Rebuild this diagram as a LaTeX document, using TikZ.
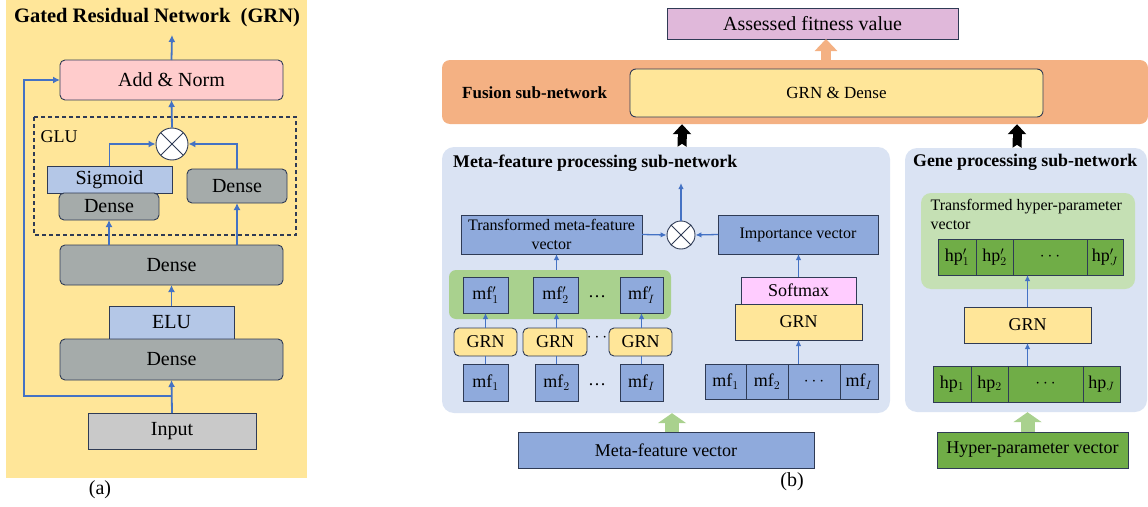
\documentclass[tikz,border=0pt]{standalone}
\usepackage{fontspec}
\setmainfont{Liberation Serif}
\usetikzlibrary{arrows.meta}
\usetikzlibrary{positioning}

\definecolor{bgyellow}{HTML}{FFE699}
\definecolor{pinkbox}{HTML}{FFCCCC}
\definecolor{densegray}{HTML}{A5ABAA}
\definecolor{lightblue}{HTML}{B4C7E7}
\definecolor{inputgray}{HTML}{C9C9C9}
\definecolor{edge}{HTML}{2F3B55}
\definecolor{arrowblue}{HTML}{4472C4}
\definecolor{fitpink}{HTML}{E0B8DA}
\definecolor{fusionorange}{HTML}{F4B183}
\definecolor{panelblue}{HTML}{DAE3F3}
\definecolor{vecblue}{HTML}{8FAADC}
\definecolor{bandgreen}{HTML}{A9D18E}
\definecolor{softpink}{HTML}{FFCCFF}
\definecolor{genegreen}{HTML}{C5E0B4}
\definecolor{hpgreen}{HTML}{70AD47}

\tikzset{
  box/.style={draw=edge,line width=0.9pt,inner sep=0pt,outer sep=0pt},
  dense/.style={box,fill=densegray,rounded corners=5pt},
  grnbox/.style={box,fill=bgyellow},
  vec/.style={box,fill=vecblue},
  hpcell/.style={box,fill=hpgreen,minimum height=36pt},
  mfcell/.style={box,fill=vecblue,minimum height=35pt},
  mulnode/.style={circle,draw=edge,line width=0.9pt,fill=white,inner sep=0pt,
    path picture={\draw[edge,line width=0.9pt]
      (path picture bounding box.north west) -- (path picture bounding box.south east)
      (path picture bounding box.north east) -- (path picture bounding box.south west);}},
  arrA/.style={draw=arrowblue,line width=1.8pt,-{Latex[length=7pt,width=7pt]}},
  arrB/.style={draw=arrowblue,line width=1.3pt,-{Latex[length=6pt,width=5.5pt]}},
  lineB/.style={draw=arrowblue,line width=1.3pt},
  bigorange/.style={draw=fusionorange,line width=10pt,-{Triangle[length=12pt,width=22pt]}},
  bigblack/.style={draw=black,line width=9pt,{Triangle Cap[reversed,length=3pt]}-{Triangle[length=10pt,width=18pt]}},
  biggreen/.style={draw=bandgreen,line width=14pt,-{Triangle[length=10pt,width=28pt]}},
  sz20/.style={font=\fontsize{20}{24}\selectfont},
  sz18/.style={font=\fontsize{18}{21}\selectfont},
  sz16/.style={font=\fontsize{16}{19}\selectfont},
  headline/.style={font=\fontsize{17.8}{21}\selectfont\bfseries,inner sep=0pt}
}

\begin{document}
\begin{tikzpicture}[x=1pt,y=-1pt]
\useasboundingbox (0,0) rectangle (1148,506);

% ---------- (a) GRN ----------
\node[fill=bgyellow,minimum width=301pt,minimum height=478pt,inner sep=0pt] (bgA) at (156.5,239) {};
\node[font=\fontsize{20.5}{24}\selectfont\bfseries] (titleA) at (157,18) {Gated Residual Network\ \ (GRN)};

\node[box,fill=pinkbox,rounded corners=5pt,minimum width=223pt,minimum height=40pt,sz20] (addnorm) at (171.5,80) {Add \& Norm};
\draw[draw=edge,line width=1.3pt,dash pattern=on 4pt off 3pt] (34,117) rectangle (296,235);
\node[sz18,anchor=west] (glu) at (37,137) {GLU};
\node[mulnode,minimum size=32pt] (mul) at (172,144) {};
\node[box,fill=lightblue,minimum width=125pt,minimum height=27pt,sz20] (sig) at (109.5,179.5) {Sigmoid};
\node[dense,minimum width=100pt,minimum height=27pt,sz20] (dsmall) at (109,206.5) {Dense};
\node[dense,minimum width=100pt,minimum height=34pt,sz20] (dright) at (237,186) {Dense};
\node[dense,minimum width=223pt,minimum height=40pt,sz20] (dbig) at (171.5,265) {Dense};
\node[box,fill=lightblue,minimum width=125pt,minimum height=33pt,sz20] (elu) at (171.5,322.5) {ELU};
\node[dense,minimum width=223pt,minimum height=41pt,sz20] (dlow) at (171.5,359.5) {Dense};
\node[box,fill=inputgray,minimum width=168pt,minimum height=36pt,sz20] (input) at (172,431) {Input};
\node[sz20] (capA) at (100,490) {(a)};

\coordinate (outA) at (172,35);
\coordinate (split) at (172,396);
\draw[arrA] (addnorm.north) -- (outA);
\draw[arrA] (mul.north) -- (addnorm.south);
\draw[arrA] (sig.north) |- (mul.west);
\draw[arrA] (dright.north) |- (mul.east);
\draw[arrA] (dbig.north -| dsmall.south) -- (dsmall.south);
\draw[arrA] (dbig.north -| dright.south) -- (dright.south);
\draw[arrA] (elu.north) -- (dbig.south);
\draw[arrA] (input.north) -- (dlow.south);
\draw[arrA] (split) -| ([xshift=-36pt]addnorm.west) -- (addnorm.west);

% ---------- (b) fusion ----------
\node[box,fill=fitpink,minimum width=291pt,minimum height=31pt,sz20] (fitness) at (812.5,23.5) {Assessed fitness value};
\node[fill=fusionorange,rounded corners=8pt,minimum width=706pt,minimum height=64pt,inner sep=0pt] (fusion) at (795,92) {};
\node[headline,font=\fontsize{17}{20}\selectfont\bfseries,anchor=west] (fusionlbl) at (462,93) {Fusion sub-network};
\node[grnbox,rounded corners=6pt,minimum width=413pt,minimum height=48pt,font=\fontsize{17}{20}\selectfont] (grnd) at (836.5,93) {GRN \& Dense};
\draw[bigorange] (fusion.north -| 826,0) -- (fitness.south -| 826,0);

% ---------- meta-feature sub-network ----------
\node[fill=panelblue,rounded corners=12pt,minimum width=448pt,minimum height=266pt,inner sep=0pt] (meta) at (666,280) {};
\node[headline,anchor=west] (metalbl) at (453,163) {Meta-feature processing sub-network};
\draw[bigblack] (meta.north -| 682,0) -- (fusion.south -| 682,0);

\node[vec,minimum width=181pt,minimum height=39pt,sz16,align=center] (trans) at (551.5,234.5) {Transformed meta-feature\\vector};
\node[mulnode,minimum size=28pt] (mul2) at (681,235) {};
\node[vec,minimum width=160pt,minimum height=39pt,sz16] (imp) at (798,234.5) {Importance vector};
\coordinate (metaout) at (681,183);
\node[box,fill=softpink,minimum width=115pt,minimum height=27pt,sz18] (softmax) at (798.5,290.5) {Softmax};
\node[grnbox,minimum width=127pt,minimum height=36pt,sz18] (grnr) at (798.5,322) {GRN};

\node[mfcell,minimum width=41pt,sz18] (mfa) at (725.5,381.5) {mf$_1$};
\node[mfcell,minimum width=42pt,sz18,right=0pt of mfa] (mfb) {mf$_2$};
\node[mfcell,minimum width=52pt,sz18,right=0pt of mfb] (mfd) {$\cdots$};
\node[mfcell,minimum width=38pt,sz18,right=0pt of mfd] (mfc) {mf$_I$};

\node[fill=bandgreen,rounded corners=7pt,minimum width=222pt,minimum height=49pt,inner sep=0pt] (band) at (560,294.5) {};
\node[vec,minimum width=45pt,minimum height=36pt,sz18] (mfp1) at (485.5,295) {mf$'_1$};
\node[vec,minimum width=45pt,minimum height=36pt,sz18] (mfp2) at (555.5,295) {mf$'_2$};
\node[vec,minimum width=43pt,minimum height=36pt,sz18] (mfpI) at (641.5,295) {mf$'_I$};
\node[sz18] (dotsp) at (597,297) {\ldots};

\node[grnbox,rounded corners=5pt,minimum width=63pt,minimum height=28pt,sz18] (grn1) at (485.5,342) {GRN};
\node[grnbox,rounded corners=5pt,minimum width=64pt,minimum height=28pt,sz18] (grn2) at (555,342) {GRN};
\node[grnbox,rounded corners=5pt,minimum width=63pt,minimum height=28pt,sz18] (grn3) at (640.5,342) {GRN};
\node[sz18] (dotsg) at (597,338) {$\cdots$};

\node[vec,minimum width=45pt,minimum height=37pt,sz18] (mf1) at (485.5,382.5) {mf$_1$};
\node[vec,minimum width=43pt,minimum height=37pt,sz18] (mf2) at (556.5,382.5) {mf$_2$};
\node[vec,minimum width=43pt,minimum height=37pt,sz18] (mfI) at (641.5,382.5) {mf$_I$};
\node[sz18] (dotsm) at (597,385) {\ldots};

\draw[lineB] (mf1.north) -- (grn1.south);
\draw[lineB] (mf2.north) -- (mf2.north |- grn2.south);
\draw[lineB] (mfI.north) -- (mfI.north |- grn3.south);
\draw[arrB] (grn1.north -| mfp1) -- (mfp1.south);
\draw[arrB] (mf2 |- grn2.north) -- (mfp2.south -| mf2);
\draw[arrB] (mfI |- grn3.north) -- (mfpI.south);
\draw[arrB] (band.north -| mf2) -- (trans.south -| mf2);
\draw[arrB] (trans.east) -- (mul2.west);
\draw[arrB] (imp.west) -- (mul2.east);
\draw[arrB] (mul2.north) -- (metaout);
\draw[arrB] (softmax.north) -- (imp.south -| softmax.north);
\draw[arrB] (mfd.north -| grnr.south) -- (grnr.south);

\node[vec,minimum width=296pt,minimum height=36pt,sz18] (metavec) at (666,450) {Meta-feature vector};
\draw[biggreen] (metavec.north -| 672,0) -- (meta.south -| 672,0);
\node[sz20] (capB) at (792,482) {(b)};

% ---------- gene sub-network ----------
\node[fill=panelblue,rounded corners=12pt,minimum width=242pt,minimum height=264pt,inner sep=0pt] (gene) at (1026,280) {};
\node[headline,anchor=west] (genelbl) at (913,162) {Gene processing sub-network};
\draw[bigblack] (gene.north -| 1017,0) -- (fusion.south -| 1017,0);

\node[fill=genegreen,rounded corners=10pt,minimum width=214pt,minimum height=96pt,inner sep=0pt] (geneband) at (1028,241) {};
\node[sz16,anchor=north west,align=left] (hpplbl) at (927,196) {Transformed hyper-parameter\\vector};
\node[hpcell,minimum width=38pt,sz18] (hpp1) at (957,257) {hp$'_1$};
\node[hpcell,minimum width=37pt,sz18,right=0pt of hpp1] (hpp2) {hp$'_2$};
\node[hpcell,minimum width=74pt,sz18,right=0pt of hpp2] (hppd) {$\cdots$};
\node[hpcell,minimum width=36pt,sz18,right=0pt of hppd] (hppJ) {hp$'_J$};

\node[grnbox,minimum width=127pt,minimum height=36pt,sz18] (grng) at (1027.5,325) {GRN};

\node[hpcell,minimum width=38pt,sz18] (hp1) at (952,384) {hp$_1$};
\node[hpcell,minimum width=37pt,sz18,right=0pt of hp1] (hp2) {hp$_2$};
\node[hpcell,minimum width=75pt,sz18,right=0pt of hp2] (hpd) {$\cdots$};
\node[hpcell,minimum width=37pt,sz18,right=0pt of hpd] (hpJ) {hp$_J$};

\draw[arrB] (hpd.north -| grng.south) -- (grng.south);
\draw[arrB] (grng.north) -- (grng.north |- hppd.south);

\node[box,fill=hpgreen,minimum width=191pt,minimum height=36pt,sz18] (hypvec) at (1032.5,450) {Hyper-parameter vector};
\draw[biggreen] (hypvec.north -| grng) -- (gene.south -| grng);
\end{tikzpicture}
\end{document}
